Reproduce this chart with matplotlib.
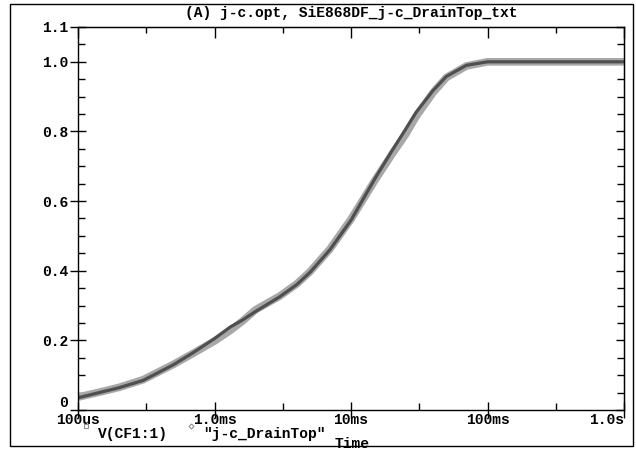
import numpy as np
import matplotlib.pyplot as plt
from matplotlib.patches import Rectangle
from matplotlib.lines import Line2D
from matplotlib.ticker import FixedLocator, NullFormatter

# Time samples (s) and node voltages
time_s = [1e-4, 1.5e-4, 2e-4, 3e-4, 5e-4, 7e-4, 1e-3, 1.3e-3, 1.6e-3, 2e-3, 3e-3,
          4e-3, 5e-3, 7e-3, 1e-2, 1.5e-2, 2e-2, 2.5e-2, 3e-2, 4e-2, 5e-2, 7e-2,
          1e-1, 2e-1, 5e-1, 1.0]
v_cf1 = [0.035, 0.052, 0.064, 0.085, 0.130, 0.165, 0.205, 0.238, 0.258, 0.283, 0.325,
         0.360, 0.395, 0.460, 0.545, 0.665, 0.745, 0.805, 0.855, 0.918, 0.958, 0.990,
         1.000, 1.000, 1.000, 1.000]
v_drain = [0.037, 0.053, 0.065, 0.087, 0.131, 0.163, 0.198, 0.228, 0.255, 0.288, 0.327,
           0.362, 0.397, 0.462, 0.548, 0.660, 0.735, 0.790, 0.843, 0.912, 0.955, 0.988,
           1.000, 1.000, 1.000, 1.000]

xticks = [1e-4, 1e-3, 1e-2, 1e-1, 1.0]
xlabels = ["100us", "1.0ms", "10ms", "100ms", "1.0s"]
yticks = [0, 0.2, 0.4, 0.6, 0.8, 1.0, 1.1]
ylabels = ["0", "0.2", "0.4", "0.6", "0.8", "1.0", "1.1"]

font = dict(family="Liberation Mono", weight="bold", size=10.5)

fig = plt.figure(figsize=(6.36, 4.51), dpi=100)
fig.patches.append(Rectangle((10 / 636, 5 / 451), 623 / 636, 442 / 451,
                             transform=fig.transFigure, fill=False,
                             edgecolor="black", linewidth=1.0))
ax = fig.add_axes([78 / 636, 41 / 451, 546 / 636, 383 / 451])

ax.plot(time_s, v_drain, color="#a8a8a8", linewidth=5.5, solid_capstyle="butt")
ax.plot(time_s, v_cf1, color="#4f4f4f", linewidth=2.3)

ax.set_xscale("log")
ax.set_xlim(1e-4, 1.0)
ax.set_ylim(0, 1.1)

xminor = [10 ** (k + 0.5) for k in range(-4, 0)]
yminor = np.arange(0.05, 1.1, 0.05)

ax.set_xticks(xticks)
ax.set_xticklabels(xlabels, fontdict=font)
ax.xaxis.set_minor_locator(FixedLocator(xminor))
ax.xaxis.set_minor_formatter(NullFormatter())
ax.set_yticks(yticks)
ax.set_yticklabels(ylabels, fontdict=font)
ax.yaxis.set_minor_locator(FixedLocator(yminor))

ax.tick_params(which="major", direction="inout", length=12, width=1, pad=1)
ax.tick_params(which="minor", direction="in", length=5, width=1)
ax.tick_params(axis="x", which="major", pad=-4)
ax.get_xticklabels()[-1].set_horizontalalignment("right")
ax.get_yticklabels()[0].set_verticalalignment("bottom")

# inward ticks on top and right edges
top = ax.secondary_xaxis("top")
top.set_xticks(xticks)
top.xaxis.set_minor_locator(FixedLocator(xminor))
top.xaxis.set_minor_formatter(NullFormatter())
top.tick_params(which="major", direction="in", length=8, width=1, labeltop=False)
top.tick_params(which="minor", direction="in", length=4, width=1)
right = ax.secondary_yaxis("right")
right.set_yticks(yticks)
right.yaxis.set_minor_locator(FixedLocator(yminor))
right.tick_params(which="major", direction="in", length=6, width=1, labelright=False)
right.tick_params(which="minor", direction="in", length=5, width=1)

for s in ax.spines.values():
    s.set_linewidth(1.0)

fig.text(0.5 * (78 + 624) / 636, 1 - 13 / 451,
         "(A) j-c.opt, SiE868DF_j-c_DrainTop_txt",
         ha="center", va="center", **font)

# legend under the axes
fig.add_artist(Line2D([86 / 636], [1 - 426 / 451], marker="s", markersize=3,
                      markerfacecolor="white", markeredgecolor="#909090",
                      markeredgewidth=0.8, linestyle="none",
                      transform=fig.transFigure))
fig.text(98 / 636, 1 - 434 / 451, "V(CF1:1)", ha="left", va="center", **font)
fig.add_artist(Line2D([191 / 636], [1 - 426 / 451], marker="D", markersize=2.5,
                      markerfacecolor="white", markeredgecolor="#909090",
                      markeredgewidth=0.8, linestyle="none",
                      transform=fig.transFigure))
fig.text(203 / 636, 1 - 434 / 451, '"j-c_DrainTop"', ha="left", va="center", **font)
fig.text(335 / 636, 1 - 444 / 451, "Time", ha="left", va="center", **font)

fig.savefig("out.png", dpi=100)
